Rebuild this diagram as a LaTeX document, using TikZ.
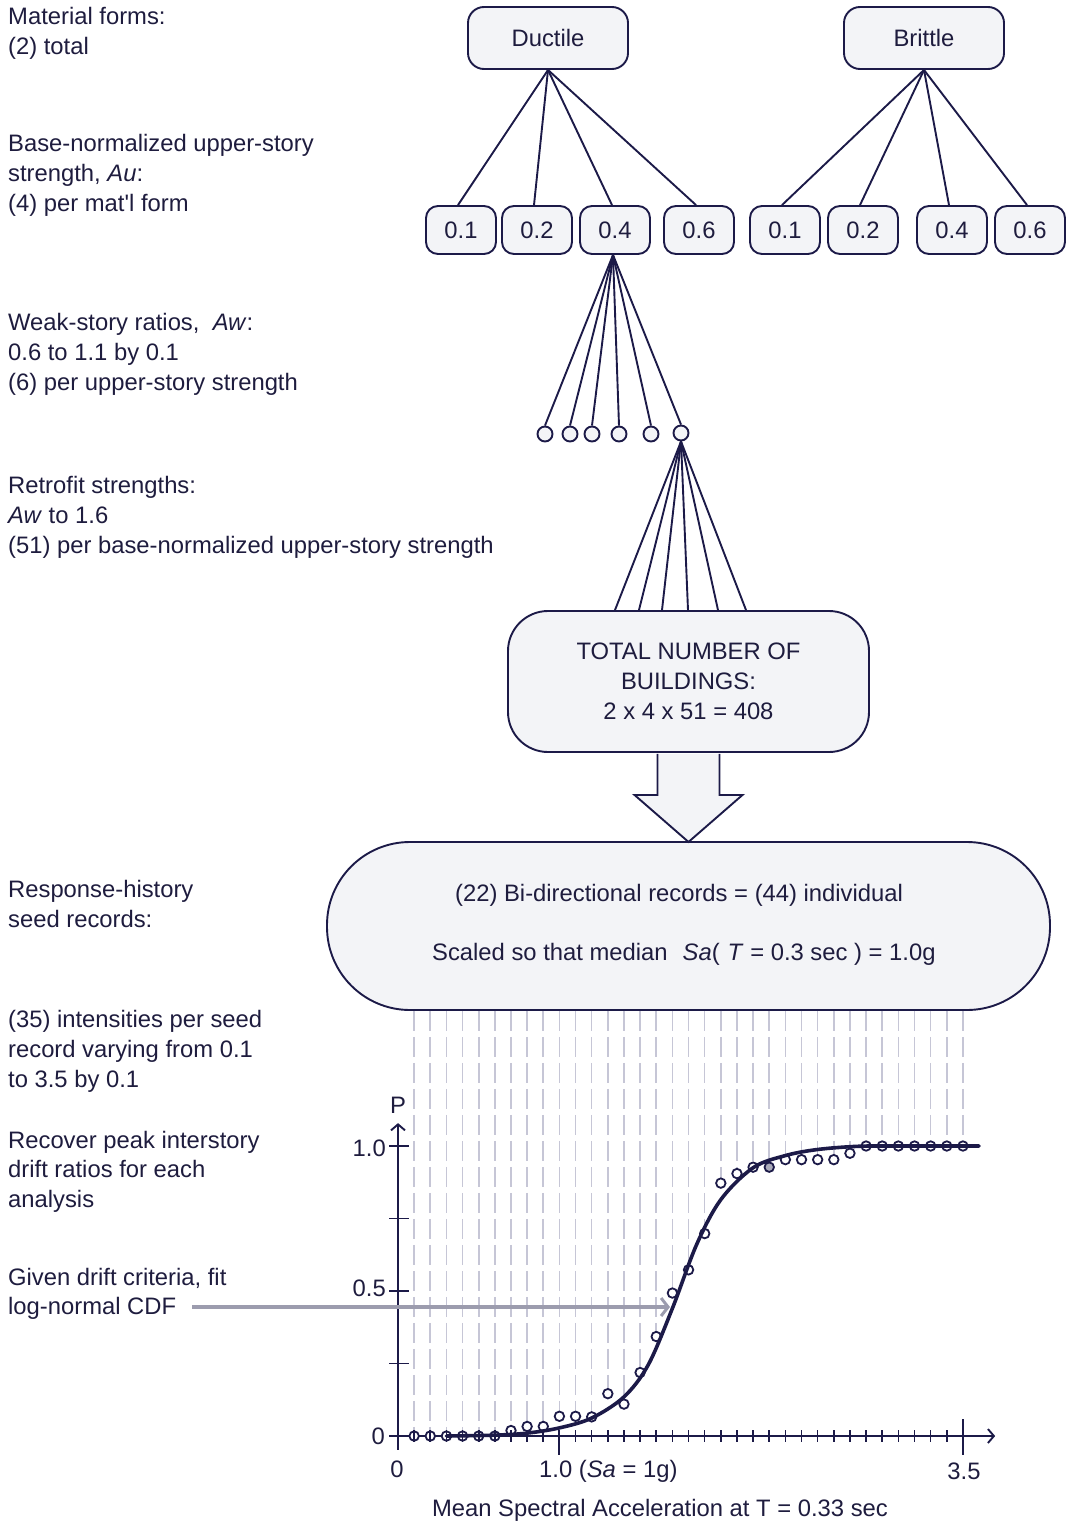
\documentclass[tikz,border=0pt]{standalone}
\usepackage{fontspec}
\setmainfont{Liberation Sans}
\usetikzlibrary{arrows.meta,calc}
\definecolor{ink}{RGB}{28,26,72}
\definecolor{txt}{RGB}{30,28,62}
\definecolor{boxfill}{RGB}{243,244,247}
\definecolor{dashc}{RGB}{198,198,214}
\definecolor{arrowc}{RGB}{156,156,174}
\definecolor{dotgrey}{RGB}{170,170,186}
\newcommand\mainsz{\fontsize{23.8}{30}\selectfont}
\begin{document}
\begin{tikzpicture}[x=1pt,y=-1pt,
  lbl/.style={anchor=base west, inner sep=0pt, text=txt, font=\mainsz},
  plain/.style={inner sep=0pt, text=txt, font=\mainsz},
  bigbox/.style={draw=ink, line width=1.9pt, fill=boxfill, rounded corners=16pt, minimum width=160pt, minimum height=62pt, inner sep=0pt, text=txt, font=\mainsz},
  smallbox/.style={draw=ink, line width=1.9pt, fill=boxfill, rounded corners=12pt, minimum width=70pt, minimum height=48pt, inner sep=0pt, text=txt, font=\mainsz},
  wnode/.style={circle, draw=ink, line width=1.9pt, fill=boxfill, minimum size=15pt, inner sep=0pt},
  link/.style={draw=ink, line width=1.9pt},
  dot/.style={circle, draw=ink, line width=1.8pt, fill=white, minimum size=9.5pt, inner sep=0pt},
  dashline/.style={draw=dashc, line width=1.6pt, dash pattern=on 20pt off 6pt},
  axisline/.style={draw=ink, line width=1.9pt},
  tip/.style={-{Straight Barb[length=6pt,width=14pt,line width=1.9pt]}}
]
\useasboundingbox (0,0) rectangle (1066,1523);

% ---------- left-column labels ----------
\node[lbl] (t1a) at (8,24) {Material forms:};
\node[lbl] (t1b) at (8,54) {(2) total};
\node[lbl] (t2a) at (8,151) {Base-normalized upper-story};
\node[lbl] (t2b) at (8,181) {strength, \textit{Au}:};
\node[lbl] (t2c) at (8,211) {(4) per mat{\addfontfeatures{Ligatures=TeXOff}'}l form};
\node[lbl] (t3a) at (8,330) {Weak-story ratios,\ \ \textit{Aw}:};
\node[lbl] (t3b) at (8,360) {0.6 to 1.1 by 0.1};
\node[lbl] (t3c) at (8,390) {(6) per upper-story strength};
\node[lbl] (t4a) at (8,493) {Retrofit strengths:};
\node[lbl] (t4b) at (8,523) {\textit{Aw} to 1.6};
\node[lbl] (t4c) at (8,553) {(51) per base-normalized upper-story strength};
\node[lbl] (t5a) at (8,897) {Response-history};
\node[lbl] (t5b) at (8,927) {seed records:};
\node[lbl] (t6a) at (8,1027) {(35) intensities per seed};
\node[lbl] (t6b) at (8,1057) {record varying from 0.1};
\node[lbl] (t6c) at (8,1087) {to 3.5 by 0.1};
\node[lbl] (t7a) at (8,1148) {Recover peak interstory};
\node[lbl] (t7b) at (8,1177) {drift ratios for each};
\node[lbl] (t7c) at (8,1207) {analysis};
\node[lbl] (t8a) at (8,1285) {Given drift criteria, fit};
\node[lbl] (t8b) at (8,1314) {log-normal CDF};

% ---------- material forms ----------
\node[bigbox] (duct) at (548,38) {Ductile};
\node[bigbox] (brit) at (924,38) {Brittle};

\node[smallbox] (d1) at (461,230) {0.1};
\node[smallbox] (d2) at (537,230) {0.2};
\node[smallbox] (d3) at (615,230) {0.4};
\node[smallbox] (d4) at (699,230) {0.6};
\node[smallbox] (b1) at (785,230) {0.1};
\node[smallbox] (b2) at (863,230) {0.2};
\node[smallbox] (b3) at (952,230) {0.4};
\node[smallbox] (b4) at (1030,230) {0.6};

\foreach \n in {d1,d2,d3,d4} \draw[link] (duct.south) -- ([xshift=-3pt]\n.north);
\foreach \n in {b1,b2,b3,b4} \draw[link] (brit.south) -- ([xshift=-3pt]\n.north);

% ---------- weak-story ratios ----------
\node[wnode] (w1) at (545,434) {};
\node[wnode] (w2) at (570,434) {};
\node[wnode] (w3) at (592,434) {};
\node[wnode] (w4) at (619,434) {};
\node[wnode] (w5) at (651,434) {};
\node[wnode] (w6) at (681,433) {};
\foreach \k in {1,...,6} \draw[link] ([xshift=-2pt]d3.south) -- (w\k.north);

% ---------- total ----------
\node[draw=ink, line width=1.9pt, fill=boxfill, rounded corners=40pt, minimum width=361pt, minimum height=141pt, align=center, text=txt, font=\mainsz] (tot) at (688.5,681.5) {TOTAL NUMBER OF\\BUILDINGS:\\2 x 4 x 51 = 408};
\foreach \dx in {-73.5,-49.5,-26.5,-0.5,29.5,57.5} \draw[link] (w6.south) -- ([xshift=\dx pt]tot.north);

% ---------- seed records ----------
\node[draw=ink, line width=1.9pt, fill=boxfill, rounded corners=83pt, minimum width=723pt, minimum height=168pt] (seed) at (688.5,926) {};
\node[plain, anchor=base west] (s1) at (455,901) {(22) Bi-directional records = (44) individual};
\node[plain, anchor=base west] (s2) at (432,960) {Scaled so that median\hspace{15pt}\textit{Sa}(\hspace{8pt}\textit{T} = 0.3 sec ) = 1.0g};

% big block arrow
\filldraw[fill=boxfill, draw=ink, line width=1.9pt, line join=miter]
  ($(tot.south)+(-31,1)$) -- ($(tot.south)+(-31,42)$) -- ($(tot.south)+(-54,42)$)
  -- ($(tot.south)+(0,89)$) -- ($(tot.south)+(54,42)$) -- ($(tot.south)+(31,42)$)
  -- ($(tot.south)+(31,1)$);

% ---------- chart ----------
\begin{scope}[shift={(398,1436)}, x=161.4pt, y=290pt]
  \foreach \p [count=\i] in {0,0,0,0,0,0,0.019,0.033,0.033,0.068,0.068,0.066,0.146,0.11,0.219,0.343,0.493,0.573,0.698,0.872,0.905,0.927,0.927,0.953,0.953,0.953,0.953,0.975,1,1,1,1,1,1,1}
    \coordinate (c\i) at ({0.1*\i},{\p});
  \foreach \i in {1,...,35}
    \draw[dashline] (c\i |- seed.south) -- ([yshift=4.5pt]c\i);
  % axes
  \draw[axisline, tip] (-0.043,0) -- (3.70,0);
  \draw[axisline, tip] (0,-0.048) -- (0,1.079);
  \foreach \q in {0,0.25,0.5,0.75,1}
    \draw[axisline] (0,\q) ++(-9pt,0) -- ++(20pt,0);
  % data points
  \foreach \i in {1,...,35} {
    \ifnum\i=23 \def\fc{dotgrey}\else\def\fc{white}\fi
    \node[dot, fill=\fc] (p\i) at (c\i) {};
  }
  % x ticks
  \foreach \i in {1,...,34}
    \draw[axisline, line width=1.6pt] ({0.1*\i},0) ++(0,6pt) -- ++(0,-12pt);
  \draw[axisline] (1,0) ++(0,6pt) -- ++(0,-25pt);
  \draw[axisline] (3.5,0) ++(0,17pt) -- ++(0,-36pt);
  % fitted curve
  \draw[ink, line width=3.6pt, line cap=round] plot[smooth, tension=0.55] coordinates {
    (0.3,0) (0.6,0.003) (0.8,0.01) (1.0,0.028) (1.2,0.062) (1.4,0.135) (1.55,0.245)
    (1.7,0.44) (1.85,0.66) (2.0,0.815) (2.2,0.925) (2.4,0.967) (2.6,0.988) (2.85,0.999)
    (3.1,1.0) (3.6,1.0)};
\end{scope}

% axis labels
\node[plain, anchor=base] (plab) at (398,1113) {P};
\node[plain, anchor=base east] (y10) at (386,1156) {1.0};
\node[plain, anchor=base east] (y05) at (386,1296) {0.5};
\node[plain, anchor=base east] (y00) at (385,1444) {0};
\node[plain, anchor=base] (x00) at (397,1477) {0};
\node[plain, anchor=base west] (x10) at (539,1477) {1.0 (\textit{Sa} = 1g)};
\node[plain, anchor=base] (x35) at (964,1479) {3.5};
\node[plain, anchor=base] (xlab) at (660,1516) {Mean Spectral Acceleration at T = 0.33 sec};

% grey pointer arrow
\coordinate (ga) at (192,1307);
\coordinate (gb) at (670,1307);
\draw[arrowc, line width=3.5pt, -{Straight Barb[length=7pt,width=18pt,line width=3pt]}] (ga) -- (gb);
\end{tikzpicture}
\end{document}
